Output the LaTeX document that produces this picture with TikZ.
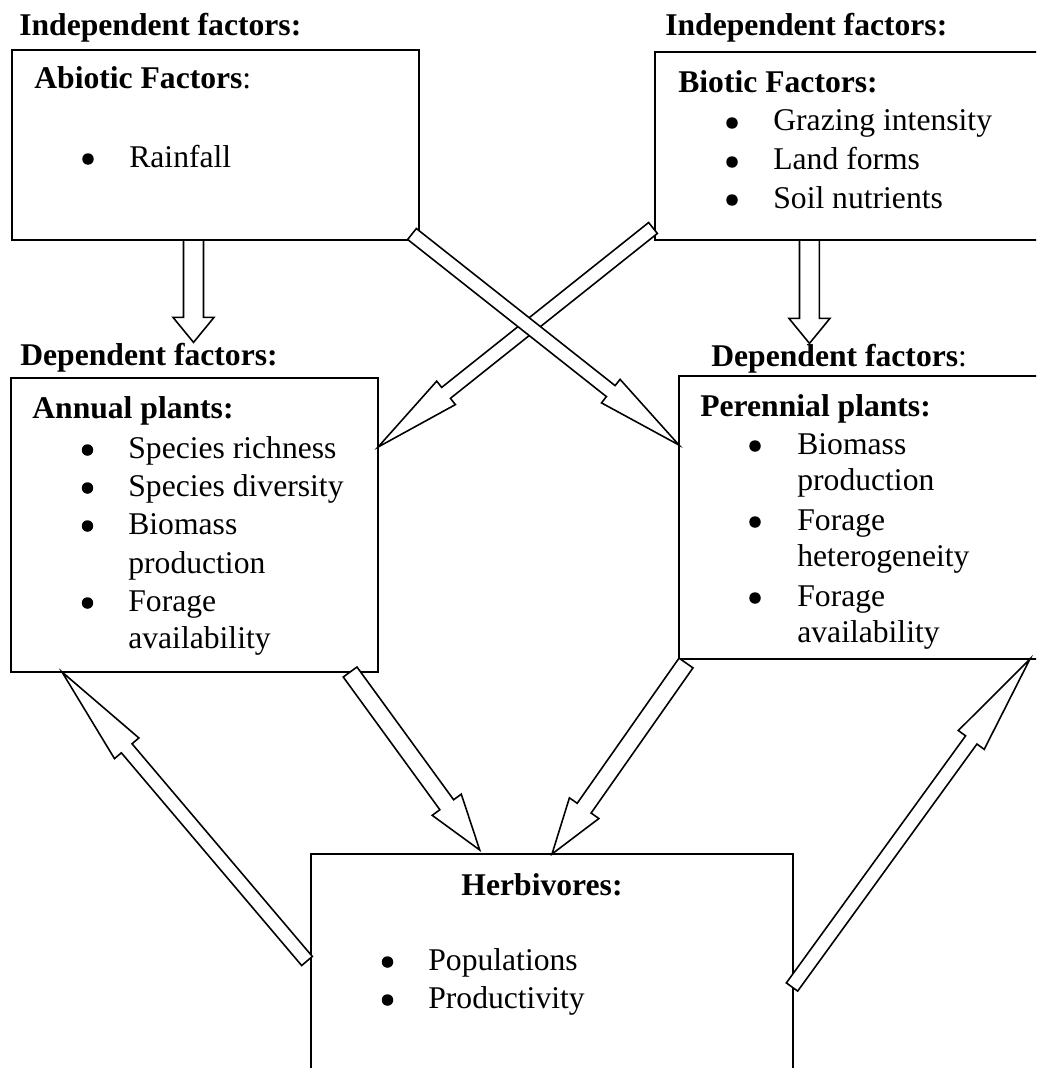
\documentclass[tikz,border=0pt]{standalone}
\usepackage{fontspec}
\setmainfont{Liberation Serif}
\usetikzlibrary{calc,fit}

\newcommand{\diafont}{\fontsize{18pt}{22pt}\selectfont}

\tikzset{
  box/.style={draw, line width=1.1pt, inner sep=0pt, outer sep=0pt},
  lbl/.style={anchor=base west, inner sep=0pt, font=\diafont\bfseries},
  txt/.style={anchor=base west, inner sep=0pt, font=\diafont},
  bul/.style={circle, fill, inner sep=0pt, minimum size=0.23cm, yshift=0.16cm},
  % hollow block arrow: shaft half width, head half width, head length
  blk/.style n args={3}{draw, fill=white, line width=0.9pt, line join=miter,
    to path={let \p1=($(\tikztotarget)-(\tikztostart)$),
      \n1={atan2(\y1,\x1)}, \n2={veclen(\x1,\y1)-#3} in
      ($(\tikztostart)+(\n1+90:#1)$) -- ++(\n1:\n2) -- ++(\n1+90:#2-#1)
      -- (\tikztotarget)
      -- ($(\tikztostart)+(\n1:\n2)+(\n1-90:#2)$) -- ++(\n1+90:#2-#1)
      -- ($(\tikztostart)+(\n1-90:#1)$) -- cycle}}
}

\begin{document}
\begin{tikzpicture}[x=0.02cm,y=-0.02cm,font=\diafont]
\useasboundingbox (0,0) rectangle (1036,1068);
\clip (0,0) rectangle (1036,1068);

% headings
\node[lbl] (indL) at (19,36) {Independent factors:};
\node[lbl] (indR) at (665,36) {Independent factors:};
\node[lbl] (depL) at (20,365) {Dependent factors:};
\node[txt] (depR) at (711,366) {\textbf{Dependent factors}:};

% boxes
\node[box,fit={(12,50) (419,240)}] (abiotic) {};
\node[box,fit={(655,52) (1050,240)}] (biotic) {};
\node[box,fit={(11,378) (378,672)}] (annual) {};
\node[box,fit={(679,376) (1050,659)}] (perennial) {};
\node[box,fit={(311,854) (793,1090)}] (herb) {};

% abiotic
\node[txt] (abT) at (34,89) {\textbf{Abiotic Factors}:};
\node[bul] (abB1) at (88,167) {};
\node[txt] (ab1) at (129,167) {Rainfall};

% biotic
\node[lbl] (biT) at (678,92) {Biotic Factors:};
\node[bul] (biB1) at (732,131) {};
\node[txt] (bi1) at (773,131) {Grazing intensity};
\node[bul] (biB2) at (732,170) {};
\node[txt] (bi2) at (773,170) {Land forms};
\node[bul] (biB3) at (732,208) {};
\node[txt] (bi3) at (773,208) {Soil nutrients};

% annual plants
\node[lbl] (anT) at (32,418) {Annual plants:};
\node[bul] (anB1) at (87.5,458) {};
\node[txt] (an1) at (128,458) {Species richness};
\node[bul] (anB2) at (87.5,496) {};
\node[txt] (an2) at (128,496) {Species diversity};
\node[bul] (anB3) at (87.5,534) {};
\node[txt] (an3) at (128,534) {Biomass};
\node[txt] (an3b) at (128,573) {production};
\node[bul] (anB4) at (87.5,611) {};
\node[txt] (an4) at (128,611) {Forage};
\node[txt] (an4b) at (128,648) {availability};

% perennial plants
\node[lbl] (peT) at (700,416) {Perennial plants:};
\node[bul] (peB1) at (755,454) {};
\node[txt] (pe1) at (797,454) {Biomass};
\node[txt] (pe1b) at (797,490) {production};
\node[bul] (peB2) at (755,530) {};
\node[txt] (pe2) at (797,530) {Forage};
\node[txt] (pe2b) at (797,566) {heterogeneity};
\node[bul] (peB3) at (755,606) {};
\node[txt] (pe3) at (797,606) {Forage};
\node[txt] (pe3b) at (797,642) {availability};

% herbivores
\node[lbl,anchor=base] (heT) at (542,895) {Herbivores:};
\node[bul] (heB1) at (387.5,970) {};
\node[txt] (he1) at (428,970) {Populations};
\node[bul] (heB2) at (387.5,1008) {};
\node[txt] (he2) at (428,1008) {Productivity};

% arrow ends
\coordinate (abOut) at ($(abiotic.south west)!.446!(abiotic.south east)$);
\coordinate (biOut) at ($(biotic.south west)!.391!(biotic.south east)$);

% arrows
\draw[blk={0.2cm}{0.41cm}{0.5cm}] (abOut) to (abOut |- depL.north);
\draw[blk={0.2cm}{0.41cm}{0.5cm}] (biOut) to (biOut |- depR.north);
\draw[blk={0.14cm}{0.3cm}{1.74cm}] ($(biotic.south west)+(-2,-12)$)
  to ($(annual.north east)!.235!(annual.south east)$);
\draw[blk={0.14cm}{0.3cm}{1.74cm}] ($(abiotic.south east)+(-7,-6)$)
  to ($(perennial.north west)!.244!(perennial.south west)$);
\draw[blk={0.17cm}{0.36cm}{1.12cm}] ($(annual.south west)!.924!(annual.south east)$)
  to ($(herb.north west)!.35!(herb.north east)+(0,-4)$);
\draw[blk={0.17cm}{0.36cm}{1.12cm}] ($(perennial.south west)+(7,4)$) to (herb.north);
\draw[blk={0.14cm}{0.32cm}{2cm}] ($(herb.north west)+(-4,107)$)
  to ($(annual.south west)!.139!(annual.south east)$);
\draw[blk={0.14cm}{0.32cm}{2cm}] ($(herb.north east)+(-1,133)$)
  to ($(perennial.south west)!.946!(perennial.south east)$);
\end{tikzpicture}
\end{document}
